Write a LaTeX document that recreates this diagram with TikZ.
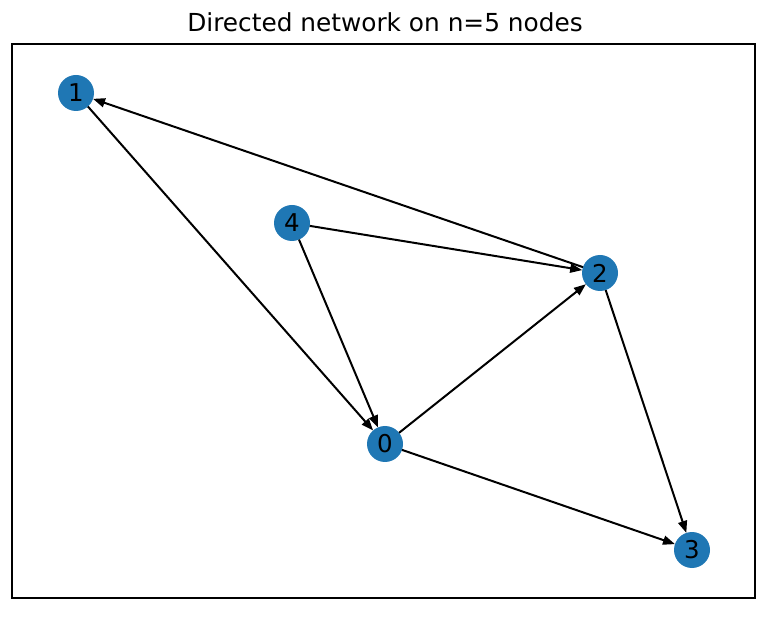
\documentclass[tikz,border=0pt]{standalone}
\usepackage{fontspec}
\setmainfont{DejaVu Sans}
\usetikzlibrary{arrows.meta}
\definecolor{nodeblue}{HTML}{1F77B4}
\begin{document}
\begin{tikzpicture}[x=1pt,y=-1pt,
  vertex/.style={circle,fill=nodeblue,minimum size=36pt,inner sep=0pt,outer sep=0pt,
    font=\fontsize{24.5}{24.5}\selectfont},
  edge/.style={line width=2pt,-{Triangle[length=12pt,width=9pt]}},
  frame/.style={line width=1.5pt}]
\useasboundingbox (0,0) rectangle (774,617);
\node[anchor=base,font=\fontsize{24.8}{25}\selectfont] (title) at (385,32) {Directed network on n=5 nodes};
\draw[frame] (12,44) rectangle (755,598);
\node[vertex] (n0) at (385,444) {0};
\node[vertex] (n1) at (76,93) {1};
\node[vertex] (n2) at (600,273) {2};
\node[vertex] (n3) at (692,550) {3};
\node[vertex] (n4) at (292,223) {4};
\draw[edge] (n1) -- (n0);
\draw[edge] (n2) -- (n1);
\draw[edge] (n4) -- (n2);
\draw[edge] (n4) -- (n0);
\draw[edge] (n0) -- (n2);
\draw[edge] (n2) -- (n3);
\draw[edge] (n0) -- (n3);
\end{tikzpicture}
\end{document}
